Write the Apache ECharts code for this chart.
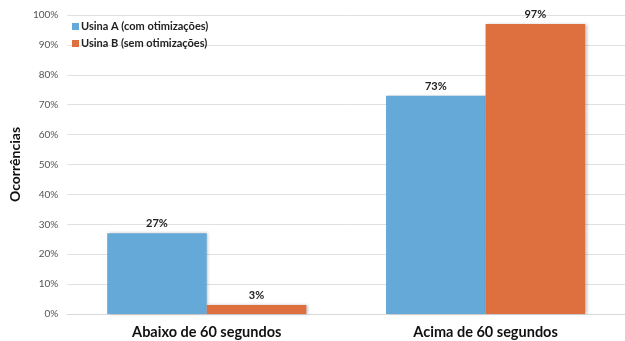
<!DOCTYPE html>
<html>
<head>
<meta charset="utf-8">
<script src="https://cdn.jsdelivr.net/npm/echarts@6/dist/echarts.min.js"></script>
<style>
  html, body { margin: 0; padding: 0; background: #fff; }
  #chart { width: 625px; height: 341px; }
</style>
</head>
<body>
<div id="chart"></div>
<script>
// Categories and series values (percent of occurrences)
const categories = ['Abaixo de 60 segundos', 'Acima de 60 segundos'];
const usinaA = [27, 73];
const usinaB = [3, 97];
const seriesNames = ['Usina A (com otimizações)', 'Usina B (sem otimizações)'];
const yTicks = [0, 10, 20, 30, 40, 50, 60, 70, 80, 90, 100];

const FONT = 'Lato, "Open Sans", sans-serif';
const chart = echarts.init(document.getElementById('chart'), null, { renderer: 'canvas' });

const labelCfg = {
  show: true,
  position: 'top',
  distance: 4,
  formatter: p => p.value + '%',
  fontFamily: FONT,
  fontWeight: 'bold',
  fontSize: 11,
  color: '#222'
};

chart.setOption({
  animation: false,
  backgroundColor: '#fff',
  grid: { left: 61, right: -2, top: 15, bottom: 27, containLabel: false },
  legend: {
    orient: 'vertical',
    left: 67,
    top: 16,
    itemWidth: 7,
    itemHeight: 7,
    itemGap: 6,
    icon: 'rect',
    textStyle: { fontFamily: FONT, fontWeight: 'bold', fontSize: 11, color: '#222', padding: [0, 0, 0, -3] },
    data: seriesNames
  },
  xAxis: {
    type: 'category',
    data: categories,
    axisLine: { lineStyle: { color: '#d9d9d9' } },
    axisTick: { show: false },
    axisLabel: { fontFamily: FONT, fontWeight: 'bold', fontSize: 14.5, color: '#111', margin: 11 }
  },
  yAxis: {
    type: 'value',
    min: yTicks[0],
    max: yTicks[yTicks.length - 1],
    interval: 10,
    name: 'Ocorrências',
    nameLocation: 'middle',
    nameGap: 44,
    nameTextStyle: { fontFamily: FONT, fontWeight: 'bold', fontSize: 14, color: '#111' },
    axisLine: { show: false },
    axisTick: { show: false },
    splitLine: { lineStyle: { color: '#e0e0e0' } },
    axisLabel: { formatter: v => v + '%', fontFamily: FONT, fontSize: 10, color: '#555', margin: 9 }
  },
  series: [
    {
      name: seriesNames[0],
      type: 'bar',
      data: usinaA,
      barGap: '0%',
      barCategoryGap: '28.6%',
      itemStyle: { color: '#64a9d7', shadowColor: 'rgba(0,0,0,0.25)', shadowBlur: 3, shadowOffsetX: 1.5 },
      label: labelCfg
    },
    {
      name: seriesNames[1],
      type: 'bar',
      data: usinaB,
      itemStyle: { color: '#de7040', shadowColor: 'rgba(0,0,0,0.25)', shadowBlur: 3, shadowOffsetX: 1.5 },
      label: labelCfg
    }
  ]
});
</script>
</body>
</html>
